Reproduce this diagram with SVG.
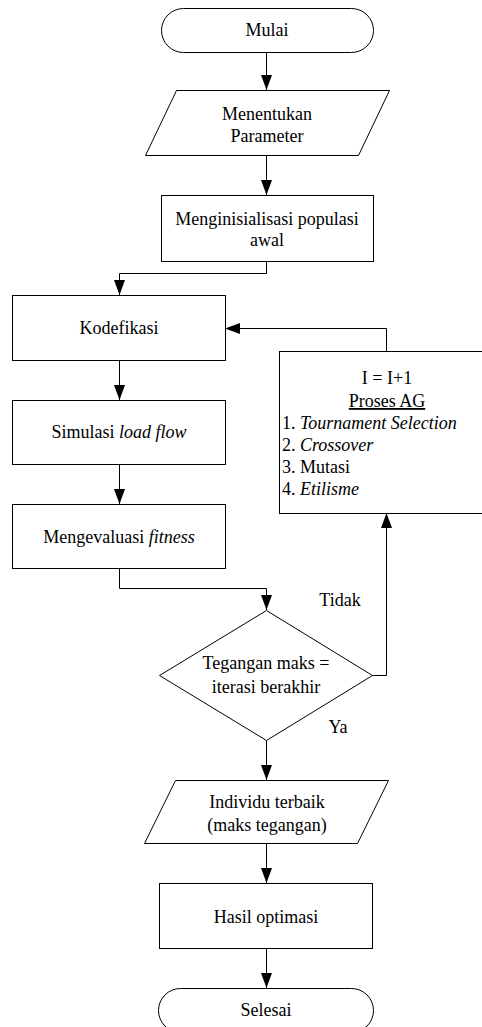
<svg xmlns="http://www.w3.org/2000/svg" width="482" height="1027" viewBox="0 0 482 1027">
<style>
.s{fill:#fff;stroke:#000;stroke-width:1}
.c{fill:none;stroke:#000;stroke-width:1;marker-end:url(#ah)}
.t{font-family:'Liberation Serif','Times New Roman',Tinos,'DejaVu Serif',serif;font-size:18px;fill:#000}
.m{text-anchor:middle}
.i{font-style:italic}
</style>
<defs>
<marker id="ah" markerUnits="userSpaceOnUse" markerWidth="15" markerHeight="12" viewBox="0 0 15 12" refX="15" refY="5.5" orient="auto">
<path d="M0,0 L15,5.5 L0,11 Z" fill="#000"/>
</marker>
</defs>
<rect width="482" height="1027" fill="#fff"/>
<g id="connectors">
<path class="c" d="M266.5,52 V90"/>
<path class="c" d="M266.5,155 V195"/>
<path class="c" d="M266.5,261 V273.5 H119.5 V295"/>
<path class="c" d="M119.5,360 V400"/>
<path class="c" d="M119.5,464 V504"/>
<path class="c" d="M119.5,568 V588.5 H266.5 V610"/>
<path class="c" d="M372,675.5 H386.5 V513"/>
<path class="c" d="M386.5,351 V328.5 H225"/>
<path class="c" d="M266.5,740 V780"/>
<path class="c" d="M266.5,843 V883"/>
<path class="c" d="M266.5,948 V988"/>
</g>
<g class="t">
<g id="mulai">
<rect class="s" x="161.5" y="8.5" width="212" height="44" rx="22"/>
<text class="m" x="267" y="36">Mulai</text>
</g>
<g id="parameter">
<polygon class="s" points="176.5,90.5 389.5,90.5 358.5,155.5 145.5,155.5"/>
<text class="m" x="267" y="120">Menentukan</text>
<text class="m" x="267" y="142">Parameter</text>
</g>
<g id="inisialisasi">
<rect class="s" x="161.5" y="195.5" width="212" height="66"/>
<text class="m" x="267" y="225">Menginisialisasi populasi</text>
<text class="m" x="267" y="246">awal</text>
</g>
<g id="kodefikasi">
<rect class="s" x="12.5" y="295.5" width="213" height="65"/>
<text class="m" x="119" y="334">Kodefikasi</text>
</g>
<g id="simulasi">
<rect class="s" x="12.5" y="400.5" width="213" height="64"/>
<text class="m" x="119" y="438">Simulasi <tspan class="i">load flow</tspan></text>
</g>
<g id="evaluasi">
<rect class="s" x="12.5" y="504.5" width="213" height="64"/>
<text class="m" x="119" y="543">Mengevaluasi <tspan class="i">fitness</tspan></text>
</g>
<g id="prosesag">
<rect class="s" x="279.5" y="351.5" width="205" height="162"/>
<text class="m" x="387" y="384">I = I+1</text>
<text class="m" x="387" y="407" text-decoration="underline">Proses AG</text>
<text x="282" y="429">1. <tspan class="i">Tournament Selection</tspan></text>
<text x="282" y="451">2. <tspan class="i">Crossover</tspan></text>
<text x="282" y="473">3. Mutasi</text>
<text x="282" y="495">4. <tspan class="i">Etilisme</tspan></text>
</g>
<g id="keputusan">
<polygon class="s" points="266.5,610.5 372.5,675.5 266.5,740.5 159.5,675.5"/>
<text class="m" x="266" y="669">Tegangan maks =</text>
<text class="m" x="266" y="693">iterasi berakhir</text>
</g>
<g id="labels">
<text class="m" x="340" y="606">Tidak</text>
<text class="m" x="338" y="733">Ya</text>
</g>
<g id="individu">
<polygon class="s" points="175.5,780.5 388.5,780.5 357.5,843.5 144.5,843.5"/>
<text class="m" x="267" y="808">Individu terbaik</text>
<text class="m" x="267" y="831">(maks tegangan)</text>
</g>
<g id="hasil">
<rect class="s" x="159.5" y="883.5" width="213" height="65"/>
<text class="m" x="266" y="923">Hasil optimasi</text>
</g>
<g id="selesai">
<rect class="s" x="158.5" y="988.5" width="215" height="44" rx="22"/>
<text class="m" x="266" y="1016">Selesai</text>
</g>
</g>
</svg>
